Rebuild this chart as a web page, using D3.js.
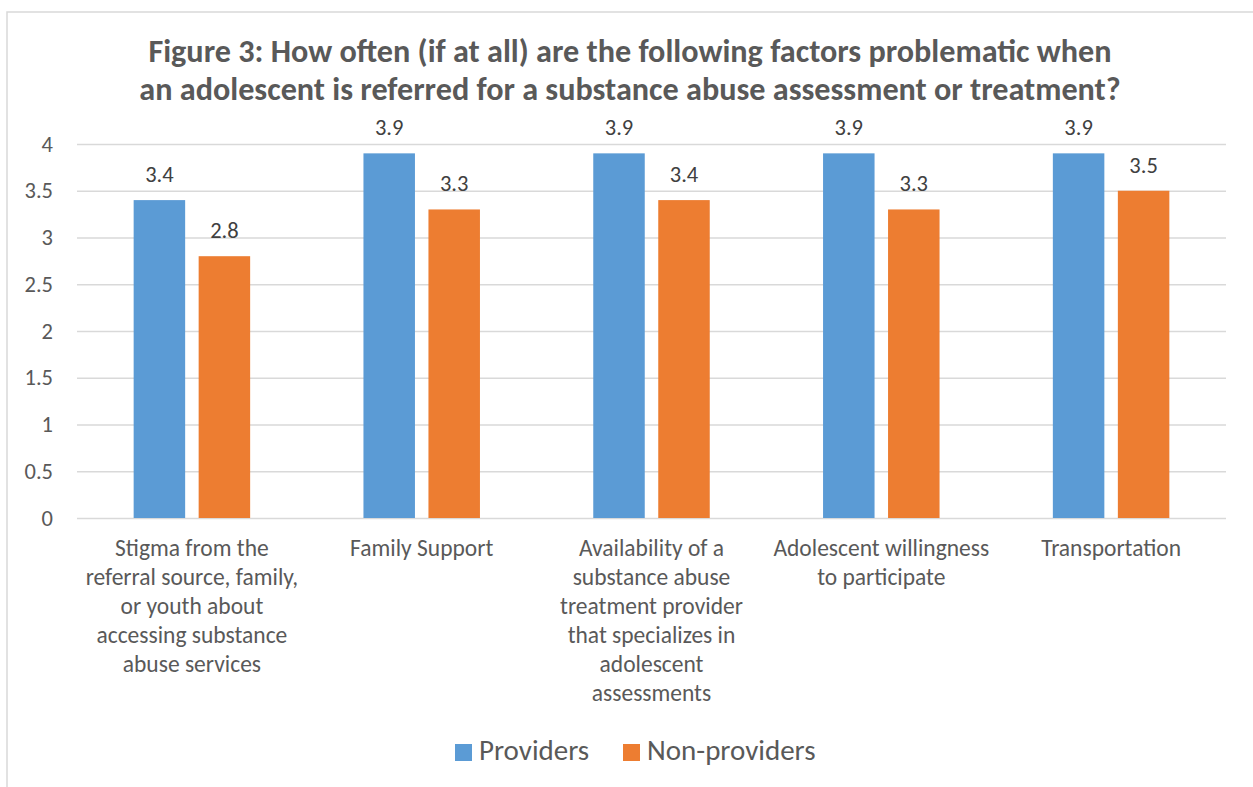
<!DOCTYPE html>
<html>
<head>
<meta charset="utf-8">
<script src="https://cdn.jsdelivr.net/npm/d3@7"></script>
<style>
  html, body { margin: 0; padding: 0; background: #fff; }
  svg { display: block; font-family: Carlito, Calibri, Lato, sans-serif; }
</style>
</head>
<body>
<svg id="chart" width="1253" height="787"></svg>
<script>
const titleLines = [
  "Figure 3: How often (if at all) are the following factors problematic when",
  "an adolescent is referred for a substance abuse assessment or treatment?"
];
const categories = [
  "Stigma from the referral source, family, or youth about accessing substance abuse services",
  "Family Support",
  "Availability of a substance abuse treatment provider that specializes in adolescent assessments",
  "Adolescent willingness to participate",
  "Transportation"
];
const categoryLines = [
  ["Stigma from the", "referral source, family,", "or youth about", "accessing substance", "abuse services"],
  ["Family Support"],
  ["Availability of a", "substance abuse", "treatment provider", "that specializes in", "adolescent", "assessments"],
  ["Adolescent willingness", "to participate"],
  ["Transportation"]
];
const seriesNames = ["Providers", "Non-providers"];
const providers = [3.4, 3.9, 3.9, 3.9, 3.9];
const nonProviders = [2.8, 3.3, 3.4, 3.3, 3.5];
const yTicks = [0, 0.5, 1, 1.5, 2, 2.5, 3, 3.5, 4];
const colors = ["#5B9BD5", "#ED7D31"];

const svg = d3.select("#chart");

// chart border (top and left visible)
svg.append("rect")
  .attr("x", 7).attr("y", 12).attr("width", 1260).attr("height", 800)
  .attr("fill", "none").attr("stroke", "#d9d9d9").attr("stroke-width", 1.5);

const plotLeft = 77, plotRight = 1226, plotTop = 144, plotBottom = 518;

const x0 = d3.scaleBand().domain(d3.range(categories.length)).range([plotLeft, plotRight]).padding(0);
const x1 = d3.scaleBand().domain(seriesNames).range([0, x0.bandwidth()])
  .paddingInner(0.2077).paddingOuter(0.8716);
const y = d3.scaleLinear().domain([0, 4]).range([plotBottom, plotTop]);

// title
const title = svg.append("text")
  .attr("text-anchor", "middle")
  .attr("font-weight", "bold")
  .attr("font-size", 32.2)
  .attr("fill", "#595959");
titleLines.forEach((t, i) => {
  title.append("tspan").attr("x", 630).attr("y", 62 + i * 38).text(t);
});

// y axis with gridlines
const yAxis = d3.axisLeft(y).tickValues(yTicks).tickSize(-(plotRight - plotLeft)).tickPadding(24).tickFormat(d3.format(""));
const gy = svg.append("g").attr("transform", `translate(${plotLeft},0)`).call(yAxis);
gy.select(".domain").remove();
gy.selectAll(".tick line").attr("stroke", "#d9d9d9").attr("stroke-width", 1.3);
gy.selectAll(".tick text")
  .attr("font-size", 22.5).attr("fill", "#595959")
  .attr("font-family", "Carlito, Calibri, Lato, sans-serif");

// bars
const data = categories.map((c, i) => ({ i, values: [providers[i], nonProviders[i]] }));
const groups = svg.append("g").selectAll("g").data(data).join("g")
  .attr("transform", d => `translate(${x0(d.i)},0)`);

groups.selectAll("rect")
  .data(d => d.values.map((v, k) => ({ k, v })))
  .join("rect")
  .attr("x", d => x1(seriesNames[d.k]))
  .attr("width", x1.bandwidth())
  .attr("y", d => y(d.v))
  .attr("height", d => y(0) - y(d.v))
  .attr("fill", d => colors[d.k]);

groups.selectAll("text.val")
  .data(d => d.values.map((v, k) => ({ k, v })))
  .join("text")
  .attr("class", "val")
  .attr("x", d => x1(seriesNames[d.k]) + x1.bandwidth() / 2)
  .attr("y", d => y(d.v) - 18)
  .attr("text-anchor", "middle")
  .attr("font-size", 22.5)
  .attr("fill", "#404040")
  .text(d => d3.format(".1f")(d.v));

// category labels
const cat = svg.append("g").selectAll("text").data(categoryLines).join("text")
  .attr("text-anchor", "middle")
  .attr("font-size", 23.5)
  .attr("fill", "#595959");
cat.each(function(lines, i) {
  const t = d3.select(this);
  lines.forEach((l, j) => {
    t.append("tspan").attr("x", x0(i) + x0.bandwidth() / 2).attr("y", 556 + j * 29).text(l);
  });
});

// legend
const legendX = d3.scaleOrdinal().domain(seriesNames).range([455, 623]);
const lg = svg.append("g").selectAll("g").data(seriesNames).join("g")
  .attr("transform", d => `translate(${legendX(d)},744)`);
lg.append("rect").attr("width", 17).attr("height", 17).attr("fill", (d, i) => colors[i]);
lg.append("text").attr("x", 24).attr("y", 16).attr("font-size", 29).attr("fill", "#595959").text(d => d);
</script>
</body>
</html>
